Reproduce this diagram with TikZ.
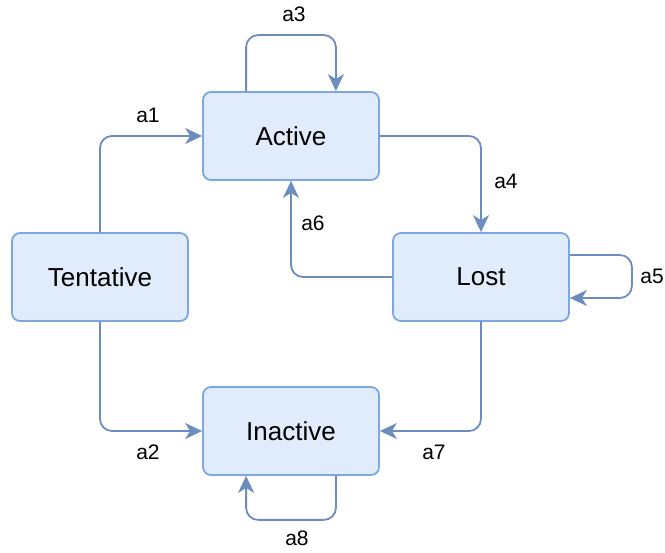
\documentclass[tikz,border=0pt]{standalone}
\usepackage{fontspec}
\setmainfont{Liberation Sans}
\usetikzlibrary{arrows.meta}
\definecolor{boxfill}{HTML}{E0EBFB}
\definecolor{boxline}{HTML}{7EA6E0}
\definecolor{edgeline}{HTML}{6C8EBF}
\begin{document}
\begin{tikzpicture}[x=1pt,y=-1pt,
  state/.style={draw=boxline, fill=boxfill, line width=1.8pt, rounded corners=8pt,
    minimum width=176pt, minimum height=88pt, inner sep=0pt,
    font=\fontsize{26}{31}\selectfont},
  edge/.style={draw=edgeline, line width=1.8pt, rounded corners=12pt,
    -{Stealth[length=17pt,width=16pt,inset=5pt]}},
  lbl/.style={inner sep=0pt, font=\fontsize{21}{25}\selectfont}]
\useasboundingbox (0,0) rectangle (665,553);
\fill[white] (0,0) rectangle (665,553);

% states
\node[state] (act)   at (291,136) {Active};
\node[state] (lost)  at (481,277) {Lost};
\node[state] (tent)  at (100,277) {Tentative};
\node[state] (inact) at (291,431) {Inactive};

% transitions
\draw[edge] (tent.north) |- (act.west);
\draw[edge] (tent.south) |- (inact.west);
\draw[edge] (act.east) -| (lost.north);
\draw[edge] (lost.west) -| (act.south);
\draw[edge] (lost.south) |- (inact.east);
\draw[edge] ([xshift=44pt]act.north west) -- ++(0,-56) -| ([xshift=-44pt]act.north east);
\draw[edge] ([yshift=22pt]lost.east) -- ++(62,0) |- ([yshift=-21pt]lost.east);
\draw[edge] ([xshift=-44pt]inact.south east) -- ++(0,44) -| ([xshift=44pt]inact.south west);

% transition labels
\node[lbl] (l1) at (148,115) {a1};
\node[lbl] (l2) at (148,452) {a2};
\node[lbl] (l3) at (294,14)  {a3};
\node[lbl] (l4) at (506,181) {a4};
\node[lbl] (l5) at (652,276) {a5};
\node[lbl] (l6) at (313,223) {a6};
\node[lbl] (l7) at (434,452) {a7};
\node[lbl] (l8) at (297,538) {a8};
\end{tikzpicture}
\end{document}
